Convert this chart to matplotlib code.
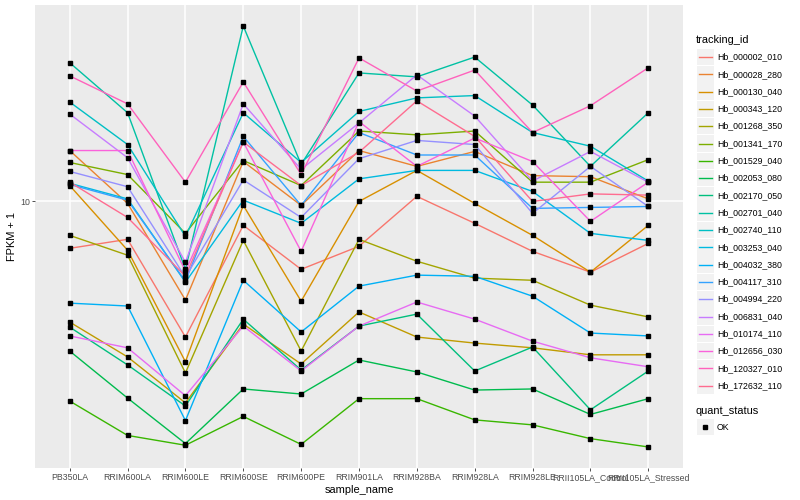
import matplotlib
matplotlib.use("Agg")
import matplotlib.pyplot as plt
from matplotlib.patches import Rectangle
from matplotlib.ticker import FixedLocator, FixedFormatter, NullLocator

plt.rcParams['font.family'] = ['Liberation Sans', 'DejaVu Sans']

# 샘플 이름 (x축)
samples = ['PB350LA', 'RRIM600LA', 'RRIM600LE', 'RRIM600SE', 'RRIM600PE',
           'RRIM901LA', 'RRIM928BA', 'RRIM928LA', 'RRIM928LE',
           'RRII105LA_Control', 'RRII105LA_Stressed']

tracking_ids = ['Hb_000002_010', 'Hb_000028_280', 'Hb_000130_040', 'Hb_000343_120',
                'Hb_001268_350', 'Hb_001341_170', 'Hb_001529_040', 'Hb_002053_080',
                'Hb_002170_050', 'Hb_002701_040', 'Hb_002740_110', 'Hb_003253_040',
                'Hb_004032_380', 'Hb_004117_310', 'Hb_004994_220', 'Hb_006831_040',
                'Hb_010174_110', 'Hb_012656_030', 'Hb_120327_010', 'Hb_172632_110']

# ggplot 기본 hue 팔레트 (20개)
colors = ['#F8766D', '#EA8331', '#D89000', '#C09B00', '#A3A500', '#7CAE00',
          '#39B600', '#00BB4E', '#00BF7D', '#00C1A3', '#00BFC4', '#00BAE0',
          '#00B0F6', '#35A2FF', '#9590FF', '#C77CFF', '#E76BF3', '#FA62DB',
          '#FF62BC', '#FF6C90']

# FPKM + 1 값
hb_000002_010 = [6.97, 7.47, 3.52, 8.32, 5.93, 7.08, 10.4, 8.45, 6.81, 5.80, 7.24]
hb_000028_280 = [14.8, 9.85, 4.68, 13.6, 9.70, 14.8, 13.1, 14.7, 12.2, 12.1, 10.2]
hb_000130_040 = [11.3, 6.87, 2.91, 9.70, 4.64, 10.0, 12.7, 9.85, 7.70, 5.80, 8.32]
hb_000343_120 = [3.95, 3.02, 2.12, 3.89, 2.86, 4.27, 3.52, 3.36, 3.24, 3.07, 3.07]
hb_001268_350 = [7.70, 6.61, 2.67, 7.41, 3.16, 7.47, 6.31, 5.54, 5.45, 4.50, 4.11]
hb_001341_170 = [13.5, 12.3, 7.82, 13.7, 11.3, 17.2, 16.7, 17.2, 11.6, 11.6, 13.8]
hb_001529_040 = [2.15, 1.65, 1.53, 1.91, 1.54, 2.19, 2.19, 1.86, 1.79, 1.61, 1.51]
hb_002053_080 = [3.16, 2.20, 1.55, 2.36, 2.27, 2.95, 2.69, 2.34, 2.36, 1.94, 2.19]
hb_002170_050 = [3.80, 2.84, 2.07, 4.04, 2.73, 3.83, 4.20, 2.71, 3.26, 2.01, 2.71]
hb_002701_040 = [29.1, 19.8, 5.93, 38.6, 13.3, 26.9, 26.1, 30.4, 21.0, 13.1, 19.8]
hb_002740_110 = [21.5, 15.5, 7.64, 19.8, 13.5, 20.0, 22.2, 22.6, 17.0, 15.3, 11.7]
hb_003253_040 = [11.5, 10.2, 5.37, 10.1, 8.45, 11.9, 12.7, 12.7, 10.8, 7.82, 7.41]
hb_004032_380 = [4.57, 4.47, 1.85, 5.45, 3.66, 5.21, 5.67, 5.62, 4.82, 3.63, 3.55]
hb_004117_310 = [11.4, 10.1, 5.41, 16.5, 9.70, 17.0, 14.3, 14.3, 9.48, 9.55, 9.62]
hb_004994_220 = [12.6, 11.2, 5.58, 11.8, 8.84, 13.9, 16.0, 15.5, 9.12, 13.1, 9.62]
hb_006831_040 = [19.6, 14.0, 6.26, 21.2, 12.8, 18.3, 26.5, 19.3, 11.7, 14.7, 11.6]
hb_010174_110 = [3.55, 3.24, 2.24, 3.83, 2.71, 3.83, 4.61, 4.04, 3.41, 3.00, 2.80]
hb_012656_030 = [14.8, 14.8, 5.84, 15.8, 6.81, 18.5, 13.1, 16.3, 13.6, 8.58, 11.6]
hb_120327_010 = [26.3, 21.2, 11.6, 25.1, 12.3, 30.2, 23.4, 27.5, 17.0, 20.9, 28.0]
hb_172632_110 = [11.6, 8.84, 5.62, 15.8, 11.3, 14.6, 21.7, 16.5, 10.0, 10.6, 10.5]

series = [hb_000002_010, hb_000028_280, hb_000130_040, hb_000343_120, hb_001268_350,
          hb_001341_170, hb_001529_040, hb_002053_080, hb_002170_050, hb_002701_040,
          hb_002740_110, hb_003253_040, hb_004032_380, hb_004117_310, hb_004994_220,
          hb_006831_040, hb_010174_110, hb_012656_030, hb_120327_010, hb_172632_110]


def main():
    fig = plt.figure(figsize=(8, 5), dpi=100)
    ax = fig.add_axes([35 / 800, 32 / 500, 648 / 800, 463 / 500])
    ax.set_facecolor('#EBEBEB')
    for s in ax.spines.values():
        s.set_visible(False)

    # 선 그리기
    for vals, col in zip(series, colors):
        ax.plot(samples, vals, color=col, lw=1.0, zorder=3)
    # 점 (quant_status = OK)
    for vals in series:
        ax.plot(samples, vals, ls='none', marker='s', ms=2.3, color='black', zorder=4)

    ax.set_yscale('log')
    ax.margins(y=0.05)
    ax.set_xlim(-0.6, len(samples) - 0.4)
    ax.yaxis.set_major_locator(FixedLocator([10]))
    ax.yaxis.set_major_formatter(FixedFormatter(['10']))
    ax.yaxis.set_minor_locator(NullLocator())

    ax.grid(True, which='major', color='white', lw=1.1, zorder=0)
    ax.set_axisbelow(True)
    ax.tick_params(length=2, width=0.6, color='#333333', labelcolor='#4D4D4D',
                   labelsize=6.3, pad=1.6)
    ax.set_xlabel('sample_name', fontsize=7.9, labelpad=2)
    ax.set_ylabel('FPKM + 1', fontsize=7.9, labelpad=2)

    # 범례 (픽셀 좌표)
    lg = fig.add_axes([0, 0, 1, 1], facecolor='none')
    lg.set_xlim(0, 800)
    lg.set_ylim(500, 0)
    lg.axis('off')
    lg.text(696, 40, 'tracking_id', fontsize=7.9, va='center', ha='left')
    y0, dy = 57, 17.3
    for i, (tid, col) in enumerate(zip(tracking_ids, colors)):
        yc = y0 + i * dy
        lg.add_patch(Rectangle((697, yc - 8.3), 16.6, 16.6, facecolor='#F2F2F2',
                               edgecolor='none'))
        lg.plot([698.5, 711.5], [yc, yc], color=col, lw=1.0)
        lg.text(717, yc, tid, fontsize=6.3, va='center', ha='left')
    lg.text(696, 411, 'quant_status', fontsize=7.9, va='center', ha='left')
    lg.add_patch(Rectangle((697, 427 - 8.3), 16.6, 16.6, facecolor='#F2F2F2',
                           edgecolor='none'))
    lg.plot([705], [427], marker='s', ms=2.3, color='black')
    lg.text(717, 427, 'OK', fontsize=6.3, va='center', ha='left')

    fig.savefig('out.png', dpi=100)


if __name__ == "__main__":
    main()
